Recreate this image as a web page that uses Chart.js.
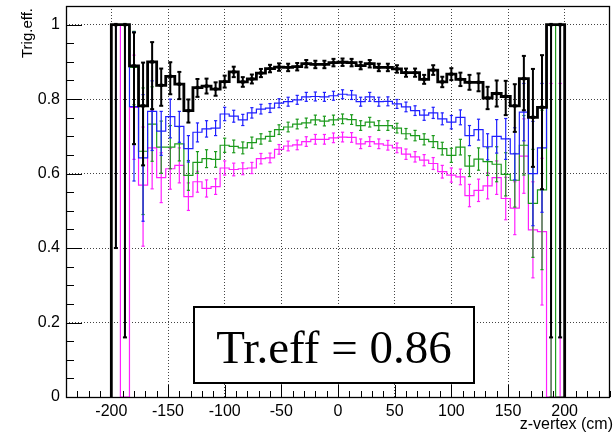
<!DOCTYPE html>
<html>
<head>
<meta charset="utf-8">
<script src="https://cdn.jsdelivr.net/npm/chart.js@4.4.1/dist/chart.umd.min.js"></script>
<style>
  html, body { margin: 0; padding: 0; background: #fff; }
</style>
</head>
<body>
<canvas id="effChart" width="616" height="434"></canvas>
<script>
// bins (cm): 50 bins of 8 cm between -200 and 200
const binWidth = 8;
const binCenters = [-196, -188, -180, -172, -164, -156, -148, -140, -132, -124,
  -116, -108, -100, -92, -84, -76, -68, -60, -52, -44,
  -36, -28, -20, -12, -4, 4, 12, 20, 28, 36,
  44, 52, 60, 68, 76, 84, 92, 100, 108, 116,
  124, 132, 140, 148, 156, 164, 172, 180, 188, 196];

const blackVals = [1, 1, 0.889, 0.782, 0.900, 0.837, 0.861, 0.840, 0.769, 0.831,
  0.835, 0.827, 0.847, 0.873, 0.846, 0.854, 0.870, 0.882, 0.886, 0.885,
  0.887, 0.895, 0.893, 0.893, 0.898, 0.899, 0.898, 0.890, 0.895, 0.885,
  0.885, 0.881, 0.871, 0.871, 0.853, 0.878, 0.846, 0.867, 0.853, 0.845,
  0.845, 0.803, 0.815, 0.807, 0.782, 0.855, 0.751, 0.778, 1, 1];
const blackLo = [0.60, 0.84, 0.21, 0.16, 0.127, 0.055, 0.048, 0.040, 0.032, 0.025,
  0.020, 0.018, 0.016, 0.014, 0.013, 0.012, 0.011, 0.010, 0.010, 0.010,
  0.010, 0.010, 0.010, 0.010, 0.010, 0.010, 0.010, 0.010, 0.010, 0.010,
  0.010, 0.010, 0.011, 0.011, 0.012, 0.013, 0.014, 0.016, 0.018, 0.020,
  0.024, 0.030, 0.035, 0.050, 0.070, 0.085, 0.133, 0.220, 0.84, 0.84];
const blackHi = [0, 0, 0.090, 0.116, 0.053, 0.045, 0.038, 0.033, 0.030, 0.023,
  0.020, 0.018, 0.016, 0.014, 0.013, 0.012, 0.011, 0.010, 0.010, 0.010,
  0.010, 0.010, 0.010, 0.010, 0.010, 0.010, 0.010, 0.010, 0.010, 0.010,
  0.010, 0.010, 0.011, 0.011, 0.012, 0.013, 0.014, 0.016, 0.018, 0.020,
  0.024, 0.030, 0.035, 0.042, 0.058, 0.061, 0.130, 0.140, 0, 0];

const blueVals = [1, 1, 0.780, 0.642, 0.767, 0.714, 0.753, 0.727, 0.667, 0.711,
  0.720, 0.722, 0.760, 0.754, 0.744, 0.763, 0.773, 0.776, 0.789, 0.793,
  0.798, 0.806, 0.807, 0.806, 0.809, 0.813, 0.811, 0.793, 0.806, 0.793,
  0.794, 0.787, 0.779, 0.769, 0.757, 0.763, 0.747, 0.738, 0.751, 0.702,
  0.718, 0.672, 0.700, 0.693, 0.653, 0.765, 0.600, 0.669, 1, 1];
const blueLo = [0.60, 0.84, 0.20, 0.170, 0.105, 0.065, 0.057, 0.043, 0.036, 0.026,
  0.022, 0.020, 0.018, 0.016, 0.015, 0.014, 0.013, 0.012, 0.012, 0.012,
  0.012, 0.012, 0.012, 0.012, 0.012, 0.012, 0.012, 0.012, 0.012, 0.012,
  0.012, 0.012, 0.013, 0.013, 0.014, 0.015, 0.016, 0.018, 0.020, 0.027,
  0.028, 0.035, 0.045, 0.055, 0.070, 0.077, 0.140, 0.173, 0.84, 0.84];
const blueHi = [0, 0, 0.20, 0.170, 0.082, 0.053, 0.047, 0.040, 0.035, 0.025,
  0.022, 0.020, 0.018, 0.016, 0.015, 0.014, 0.013, 0.012, 0.012, 0.012,
  0.012, 0.012, 0.012, 0.012, 0.012, 0.012, 0.012, 0.012, 0.012, 0.012,
  0.012, 0.012, 0.013, 0.013, 0.014, 0.015, 0.016, 0.018, 0.020, 0.027,
  0.028, 0.035, 0.045, 0.055, 0.070, 0.077, 0.140, 0.173, 0, 0];

const greenVals = [1, 1, 0.885, 0.660, 0.733, 0.671, 0.671, 0.680, 0.595, 0.630,
  0.640, 0.638, 0.676, 0.673, 0.669, 0.683, 0.693, 0.700, 0.718, 0.725,
  0.733, 0.736, 0.744, 0.741, 0.744, 0.747, 0.745, 0.729, 0.738, 0.729,
  0.729, 0.722, 0.707, 0.702, 0.692, 0.686, 0.667, 0.649, 0.671, 0.620,
  0.639, 0.632, 0.625, 0.598, 0.582, 0.676, 0.520, 0.556, 1, 0];
const greenLo = [0.60, 0.84, 0.100, 0.170, 0.100, 0.070, 0.058, 0.046, 0.040, 0.029,
  0.024, 0.021, 0.019, 0.017, 0.016, 0.015, 0.014, 0.013, 0.013, 0.013,
  0.013, 0.013, 0.013, 0.013, 0.013, 0.013, 0.013, 0.013, 0.013, 0.013,
  0.013, 0.013, 0.014, 0.014, 0.015, 0.016, 0.017, 0.019, 0.021, 0.028,
  0.030, 0.037, 0.047, 0.058, 0.072, 0.080, 0.145, 0.214, 1.0, 0];
const greenHi = [0, 0, 0.097, 0.170, 0.100, 0.070, 0.058, 0.046, 0.040, 0.029,
  0.024, 0.021, 0.019, 0.017, 0.016, 0.015, 0.014, 0.013, 0.013, 0.013,
  0.013, 0.013, 0.013, 0.013, 0.013, 0.013, 0.013, 0.013, 0.013, 0.013,
  0.013, 0.013, 0.014, 0.014, 0.015, 0.016, 0.017, 0.019, 0.021, 0.028,
  0.030, 0.037, 0.047, 0.058, 0.072, 0.080, 0.145, 0.214, 0, 0];

const magentaVals = [1, 0, 0.778, 0.569, 0.669, 0.589, 0.613, 0.622, 0.538, 0.578,
  0.560, 0.565, 0.615, 0.611, 0.613, 0.615, 0.640, 0.642, 0.665, 0.674,
  0.677, 0.686, 0.692, 0.692, 0.696, 0.698, 0.697, 0.680, 0.686, 0.680,
  0.676, 0.669, 0.652, 0.645, 0.636, 0.627, 0.605, 0.596, 0.591, 0.541,
  0.555, 0.567, 0.589, 0.533, 0.507, 0.647, 0.449, 0.444, 0, 0];
const magentaLo = [0.60, 0, 0.140, 0.164, 0.110, 0.067, 0.055, 0.047, 0.037, 0.028,
  0.023, 0.021, 0.019, 0.017, 0.016, 0.015, 0.014, 0.013, 0.013, 0.013,
  0.013, 0.013, 0.013, 0.013, 0.013, 0.013, 0.013, 0.013, 0.013, 0.013,
  0.013, 0.013, 0.014, 0.014, 0.015, 0.016, 0.017, 0.019, 0.021, 0.030,
  0.030, 0.035, 0.045, 0.057, 0.071, 0.100, 0.129, 0.197, 0.842, 0.842];
const magentaHi = [0, 0, 0.140, 0.156, 0.100, 0.067, 0.055, 0.047, 0.037, 0.028,
  0.023, 0.021, 0.019, 0.017, 0.016, 0.015, 0.014, 0.013, 0.013, 0.013,
  0.013, 0.013, 0.013, 0.013, 0.013, 0.013, 0.013, 0.013, 0.013, 0.013,
  0.013, 0.013, 0.014, 0.014, 0.015, 0.016, 0.017, 0.019, 0.021, 0.030,
  0.030, 0.035, 0.045, 0.057, 0.071, 0.100, 0.129, 0.197, 0.842, 0.842];

const xTicks = [-200, -150, -100, -50, 0, 50, 100, 150, 200];
const yTicks = [0, 0.2, 0.4, 0.6, 0.8, 1];
const effLabel = 'Tr.eff = 0.86';

// histogram outline as explicit corner points
function stepPoints(vals) {
    const pts = [{ x: binCenters[0] - binWidth / 2, y: 0 }];
    vals.forEach((v, i) => {
        pts.push({ x: binCenters[i] - binWidth / 2, y: v });
        pts.push({ x: binCenters[i] + binWidth / 2, y: v });
    });
    pts.push({ x: binCenters[binCenters.length - 1] + binWidth / 2, y: 0 });
    return pts;
}

// vertical error bars, separated by gaps
function errPoints(vals, lo, hi) {
    const pts = [];
    vals.forEach((v, i) => {
        if (!lo[i] && !hi[i]) return;
        pts.push({ x: binCenters[i], y: v - lo[i] });
        pts.push({ x: binCenters[i], y: v + hi[i] });
        pts.push({ x: binCenters[i], y: null });
    });
    return pts;
}

// small ticks at the end of the error bars
function capPoints(vals, lo, hi) {
    const pts = [];
    vals.forEach((v, i) => {
        if (lo[i]) pts.push({ x: binCenters[i], y: v - lo[i] });
        if (hi[i]) pts.push({ x: binCenters[i], y: v + hi[i] });
    });
    return pts;
}

function series(color, vals, lo, hi, width, capR) {
    return [{
        data: stepPoints(vals),
        borderColor: color,
        borderWidth: width,
        pointRadius: 0,
        fill: false
    }, {
        data: errPoints(vals, lo, hi),
        borderColor: color,
        borderWidth: width > 2 ? 2 : width,
        pointRadius: 0,
        spanGaps: false,
        fill: false
    }, {
        data: capPoints(vals, lo, hi),
        showLine: false,
        pointStyle: 'line',
        pointRadius: capR,
        pointBorderWidth: width > 2 ? 2 : width,
        pointBorderColor: color
    }];
}

const blackMarkers = {
    data: blackVals.map((v, i) => ({ x: binCenters[i], y: v })),
    showLine: false,
    pointStyle: 'rect',
    pointRadius: 2.4,
    pointBackgroundColor: '#000',
    pointBorderColor: '#000',
    pointBorderWidth: 0
};

// drop the label padding Chart.js reserves, the frame is fixed by hand
function fixAxis(scale, size) {
    if (scale.isHorizontal()) scale.height = size; else scale.width = size;
    scale.paddingTop = 0;
    scale.paddingBottom = 0;
    scale.paddingLeft = 0;
    scale.paddingRight = 0;
}

// ROOT-like frame, inward ticks, axis titles and the text box
const rootDecor = {
    id: 'rootDecor',
    afterDatasetsDraw(chart) {
        const { ctx, chartArea: a, scales: { x, y } } = chart;
        ctx.save();
        ctx.strokeStyle = '#000';
        ctx.lineWidth = 1;
        ctx.beginPath();
        for (let v = -240; v <= 240; v += 10) {
            const px = Math.round(x.getPixelForValue(v)) + 0.5;
            const len = xTicks.includes(v) ? 12 : 6;
            ctx.moveTo(px, a.bottom);
            ctx.lineTo(px, a.bottom - len);
        }
        for (let k = 0; k <= 20; k++) {
            const py = Math.round(y.getPixelForValue(k * 0.05)) + 0.5;
            const len = k % 4 === 0 ? 16 : 8;
            ctx.moveTo(a.left, py);
            ctx.lineTo(a.left + len, py);
        }
        ctx.stroke();
        ctx.lineWidth = 1.3;
        ctx.strokeRect(a.left + 0.5, a.top + 0.5, a.right - a.left - 1, a.bottom - a.top);

        // text box
        const bx = 194, by = 307, bw = 280, bh = 76;
        ctx.fillStyle = '#fff';
        ctx.fillRect(bx, by, bw, bh);
        ctx.lineWidth = 2;
        ctx.strokeRect(bx, by, bw, bh);
        ctx.fillStyle = '#000';
        ctx.font = '47px "Liberation Serif", "Times New Roman", serif';
        ctx.textAlign = 'center';
        ctx.textBaseline = 'alphabetic';
        ctx.fillText(effLabel, bx + bw / 2, 363);

        // axis titles
        ctx.font = '16px "Liberation Sans", Arial, sans-serif';
        ctx.textAlign = 'right';
        ctx.fillText('z-vertex (cm)', 613, 429);
        ctx.save();
        ctx.translate(32, 8);
        ctx.rotate(-Math.PI / 2);
        ctx.font = '15px "Liberation Sans", Arial, sans-serif';
        ctx.textAlign = 'right';
        ctx.fillText('Trig.eff.', 0, 0);
        ctx.restore();
        ctx.restore();
    }
};

const ctx = document.getElementById('effChart');
new Chart(ctx, {
    type: 'line',
    data: {
        datasets: [
            blackMarkers,
            ...series('#000000', blackVals, blackLo, blackHi, 2.8, 2),
            ...series('#1f1fff', blueVals, blueLo, blueHi, 1.2, 1.6),
            ...series('#1c9a1c', greenVals, greenLo, greenHi, 1.2, 1.6),
            ...series('#ff1fff', magentaVals, magentaLo, magentaHi, 1.2, 1.6)
        ]
    },
    options: {
        responsive: false,
        animation: false,
        devicePixelRatio: 1,
        layout: { padding: { top: 3, right: 4, left: 0, bottom: 0 } },
        plugins: {
            legend: { display: false },
            tooltip: { enabled: false }
        },
        elements: { line: { tension: 0 } },
        scales: {
            x: {
                type: 'linear',
                min: -240,
                max: 240,
                afterFit: function (scale) { fixAxis(scale, 37); },
                afterBuildTicks: function (scale) {
                    scale.ticks = xTicks.map(v => ({ value: v }));
                },
                ticks: {
                    padding: 5,
                    color: '#000',
                    maxRotation: 0,
                    font: { family: '"Liberation Sans", Arial, sans-serif', size: 16 },
                    callback: v => String(v)
                },
                grid: { color: '#444', lineWidth: 1, drawTicks: false },
                border: { display: false, dash: [1, 2] }
            },
            y: {
                type: 'linear',
                min: 0,
                max: 1.05,
                afterFit: function (scale) { fixAxis(scale, 66); },
                afterBuildTicks: function (scale) {
                    scale.ticks = yTicks.map(v => ({ value: v }));
                },
                ticks: {
                    padding: 6,
                    color: '#000',
                    font: { family: '"Liberation Sans", Arial, sans-serif', size: 16 },
                    callback: v => String(v)
                },
                grid: { color: '#444', lineWidth: 1, drawTicks: false },
                border: { display: false, dash: [1, 2] }
            }
        }
    },
    plugins: [rootDecor]
});
</script>
</body>
</html>
